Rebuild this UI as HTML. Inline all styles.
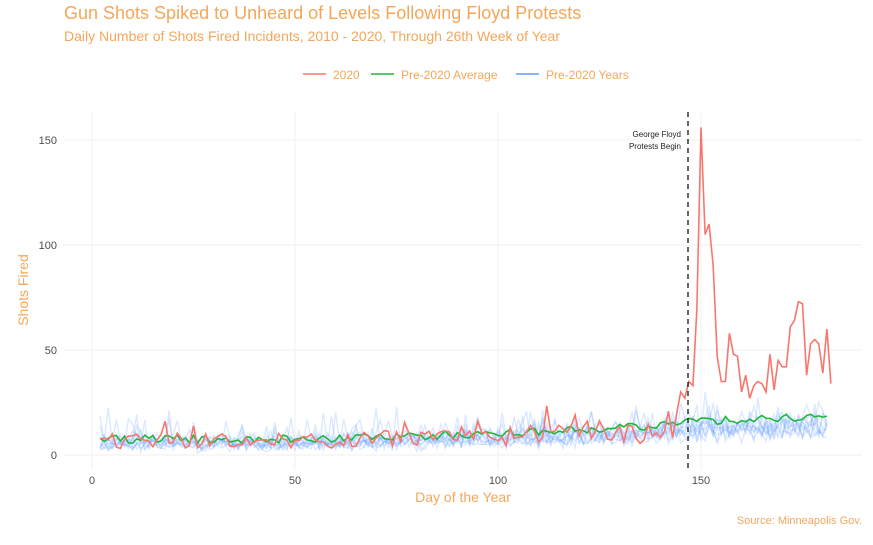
<!DOCTYPE html>
<html><head><meta charset="utf-8"><style>
body{margin:0;background:#fff;font-family:"Liberation Sans",sans-serif}
svg text{font-family:"Liberation Sans",sans-serif}
</style></head><body>
<svg id="s" width="873" height="540" xmlns="http://www.w3.org/2000/svg">
<rect width="873" height="540" fill="#fff"/>
<text x="64" y="19" font-size="18" fill="#F4A75A">Gun Shots Spiked to Unheard of Levels Following Floyd Protests</text>
<text x="64" y="41" font-size="14" fill="#F4A75A">Daily Number of Shots Fired Incidents, 2010 - 2020, Through 26th Week of Year</text>
<line x1="303" y1="74" x2="326" y2="74" stroke="#F8766D" stroke-width="1.5"/>
<text x="333" y="79" font-size="12" fill="#F4A75A">2020</text>
<line x1="371" y1="74" x2="394" y2="74" stroke="#1DB83C" stroke-width="1.5"/>
<text x="401" y="79" font-size="12" fill="#F4A75A">Pre-2020 Average</text>
<line x1="516" y1="74" x2="539" y2="74" stroke="#619CFF" stroke-width="1.5"/>
<text x="546" y="79" font-size="12" fill="#F4A75A">Pre-2020 Years</text>
<g stroke="#F2F2F2" stroke-width="1.2">
<line x1="64" x2="862" y1="455" y2="455"/><line x1="64" x2="862" y1="350" y2="350"/><line x1="64" x2="862" y1="245" y2="245"/><line x1="64" x2="862" y1="140" y2="140"/>
<line x1="92" x2="92" y1="112" y2="470"/><line x1="295" x2="295" y1="112" y2="470"/><line x1="498" x2="498" y1="112" y2="470"/><line x1="701" x2="701" y1="112" y2="470"/>
</g>
<g font-size="11" fill="#4D4D4D" text-anchor="end">
<text x="57" y="459">0</text><text x="57" y="354">50</text><text x="57" y="249">100</text><text x="57" y="144">150</text>
</g>
<g font-size="11" fill="#4D4D4D" text-anchor="middle">
<text x="92" y="484">0</text><text x="295" y="484">50</text><text x="498" y="484">100</text><text x="701" y="484">150</text>
</g>
<text x="463" y="502" font-size="14" fill="#F4A75A" text-anchor="middle">Day of the Year</text>
<text transform="translate(28,290) rotate(-90)" font-size="14" fill="#F4A75A" text-anchor="middle">Shots Fired</text>
<text x="862" y="524" font-size="11" fill="#F4A75A" text-anchor="end">Source: Minneapolis Gov.</text>
<g id="blue"></g>
<path id="green" fill="none" stroke="#1DB83C" stroke-width="1.6"/>
<path id="red" fill="none" stroke="#F8766D" stroke-width="1.6"/>
<line x1="688" x2="688" y1="112" y2="470" stroke="#000" stroke-width="1.2" stroke-dasharray="5,4"/>
<text x="681" y="137" font-size="8" fill="#222" text-anchor="end">George Floyd</text>
<text x="681" y="149" font-size="8" fill="#222" text-anchor="end">Protests Begin</text>
</svg>
<script>
var seed=11;function r(){seed=(seed*16807)%2147483647;return seed/2147483647;}
function X(d){return 92+d*4.06;}function Y(v){return 455-v*2.1;}
function base(d){return 7.5+ (d>60?(d-60)*0.075:0) + (d>140?2:0);}
var days=[];for(var d=2;d<=181;d++)days.push(d);
var bg=document.getElementById('blue');
for(var k=0;k<10;k++){var p='';days.forEach(function(d,i){var v=Math.max(1,base(d)*(0.45+0.6*r())+(r()<0.1?r()*14:0)+(r()-0.5)*5);p+=(i?'L':'M')+X(d).toFixed(1)+','+Y(v).toFixed(1);});
var e=document.createElementNS('http://www.w3.org/2000/svg','path');e.setAttribute('d',p);e.setAttribute('fill','none');e.setAttribute('stroke','#619CFF');e.setAttribute('stroke-opacity','0.22');e.setAttribute('stroke-width','1.4');bg.appendChild(e);}
var g='';days.forEach(function(d,i){var v=base(d)+ (r()-0.5)*4;g+=(i?'L':'M')+X(d).toFixed(1)+','+Y(v).toFixed(1);});
document.getElementById('green').setAttribute('d',g);
var tail={145:30,146:27,147:35,148:33,149:70,150:156,151:105,152:110,153:90,154:47,155:35,156:35,157:58,158:48,159:47,160:30,161:38,162:27,163:33,164:35,165:34,166:30,167:48,168:31,169:45,170:42,171:42,172:61,173:64,174:73,175:72,176:38,177:53,178:55,179:53,180:39,181:60,182:34};
var rp='';days.concat([182]).forEach(function(d,i){var v=tail[d]!==undefined?tail[d]:Math.max(1,base(d)*(0.4+1.0*r())+(r()<0.1?r()*10:0));rp+=(i?'L':'M')+X(d).toFixed(1)+','+Y(v).toFixed(1);});
document.getElementById('red').setAttribute('d',rp);
</script>
</body></html>
